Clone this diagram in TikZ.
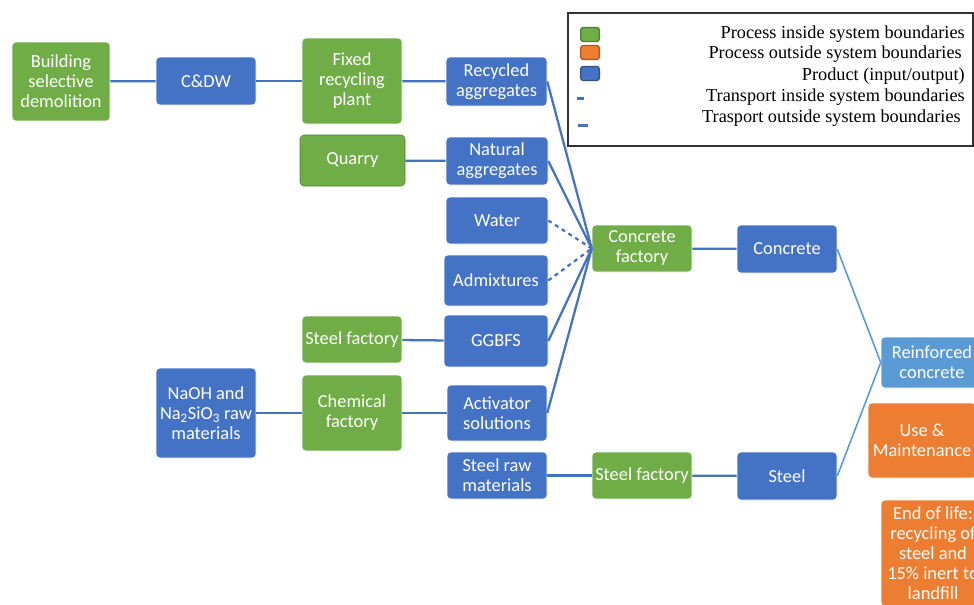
\documentclass[tikz,border=0pt]{standalone}
\usepackage{fontspec}
\setmainfont{Carlito}
\newfontfamily\legfont{Liberation Serif}
\usetikzlibrary{positioning}
\definecolor{lcagreen}{HTML}{70AD47}
\definecolor{lcablue}{HTML}{4472C4}
\definecolor{lcaorange}{HTML}{ED7D31}
\definecolor{lcalight}{HTML}{5B9BD5}
\definecolor{lcagreendk}{HTML}{507E32}
\definecolor{lcabluedk}{HTML}{2F528F}
\definecolor{lcaorangedk}{HTML}{AE5A21}

\begin{document}
\begin{tikzpicture}[x=0.75pt,y=-0.75pt,
    box/.style={rounded corners=3pt,draw=white,thin,text=white,align=center,inner sep=0pt,
      font=\fontsize{13.8}{15}\selectfont},
    proc/.style={box,fill=lcagreen},
    prod/.style={box,fill=lcablue},
    outproc/.style={box,fill=lcaorange},
    sz/.style 2 args={minimum width=#1*0.75pt,minimum height=#2*0.75pt},
    link/.style={lcablue,line width=1.7pt},
    reuse/.style={lcalight,line width=1.2pt},
    legmark/.style={rounded corners=2pt,line width=1pt,minimum width=14pt,minimum height=10.5pt,inner sep=0pt}]
    \useasboundingbox (0,0) rectangle (974,604);
    \clip (0,0) rectangle (974,604);
    % recycled aggregate chain
    \node[proc,sz={98}{79}] (demol) at (61,81.5) {Building\\selective\\demolition};
    \node[prod,sz={100}{48}] (cdw) at (206,81) {C\&DW};
    \node[proc,sz={100}{86}] (fixed) at (352,81) {Fixed\\recycling\\plant};
    \node[prod,sz={101}{49}] (recyc) at (496.5,81.5) {Recycled\\aggregates};
    \node[proc,sz={105}{51},draw=lcagreendk] (quarry) at (352.5,160.5) {Quarry};
    \node[prod,sz={102}{48}] (natagg) at (497,161) {Natural\\aggregates};
    \node[prod,sz={102}{47}] (water) at (497,220.5) {Water};
    \node[prod,sz={104}{51}] (admix) at (496,280.5) {Admixtures};
    \node[proc,sz={100}{47}] (steelfacl) at (352,339.5) {Steel factory};
    \node[prod,sz={104}{52}] (ggbfs) at (496,341) {GGBFS};
    \node[prod,sz={100}{90}] (naoh) at (206,413) {NaOH and\\Na\textsubscript{2}SiO\textsubscript{3} raw\\materials};
    \node[proc,sz={100}{76}] (chem) at (352,413) {Chemical\\factory};
    \node[prod,sz={100}{56}] (activ) at (497,413) {Activator\\solutions};
    \node[prod,sz={100}{47}] (steelraw) at (497,475.5) {Steel raw\\materials};
    \node[proc,sz={100}{47}] (steelfacr) at (642,475.5) {Steel factory};
    \node[proc,sz={100}{47}] (concfac) at (642,248.5) {Concrete\\factory};
    \node[prod,sz={100}{48}] (concrete) at (787,249) {Concrete};
    \node[prod,sz={100}{48}] (steel) at (787,476) {Steel};
    \node[box,fill=lcalight,sz={102}{51}] (reinf) at (932,362.5) {Reinforced\\concrete};
    \node[outproc,sz={108}{75}] (use) at (922,440.5) {Use \&\\Maintenance};
    \node[outproc,sz={104}{106}] (eol) at (933,553) {End of life:\\recycling of\\steel and\\15\% inert to\\landfill};
    % links
    \draw[link] (demol) -- (cdw);
    \draw[link] (cdw) -- (fixed);
    \draw[link] (fixed) -- (recyc);
    \draw[link] (quarry) -- (natagg);
    \draw[link] (steelfacl) -- (ggbfs);
    \draw[link] (naoh) -- (chem);
    \draw[link] (chem) -- (activ);
    \draw[link] (steelraw) -- (steelfacr);
    \draw[link] (steelfacr) -- (steel);
    \draw[link] (concfac) -- (concrete);
    \draw[link] (recyc.east) -- (concfac.west);
    \draw[link] (natagg.east) -- (concfac.west);
    \draw[link,dashed] (water.east) -- (concfac.west);
    \draw[link,dashed] (admix.east) -- (concfac.west);
    \draw[link] (ggbfs.east) -- (concfac.west);
    \draw[link] (activ.east) -- (concfac.west);
    \draw[reuse] (concrete.east) -- (reinf.west);
    \draw[reuse] (steel.east) -- (reinf.west);
    % legend
    \draw[black!80,thick,fill=white] (568,13) rectangle (973,146);
    \node[legmark,fill=lcagreen,draw=lcagreendk] (mgreen) at (590,34.5) {};
    \node[legmark,fill=lcaorange,draw=lcaorangedk] (morange) at (590,52.5) {};
    \node[legmark,fill=lcablue,draw=lcabluedk] (mblue) at (590,73.5) {};
    \draw[link,line width=2.5pt] (577,98.5) -- (584,98.5);
    \draw[link,line width=2.5pt] (578,125.5) -- (588,125.5);
    \begin{scope}[every node/.style={anchor=east,inner sep=0pt,font=\legfont\fontsize{13.7}{15}\selectfont}]
      \node (lgreen) at (965,34.5) {Process inside system boundaries};
      \node (lorange) at (962,54) {Process outside system boundaries};
      \node (lblue) at (965,76) {Product (input/output)};
      \node (ltin) at (965,97.5) {Transport inside system boundaries};
      \node (ltout) at (961,118.5) {Trasport outside system boundaries};
    \end{scope}
\end{tikzpicture}
\end{document}
